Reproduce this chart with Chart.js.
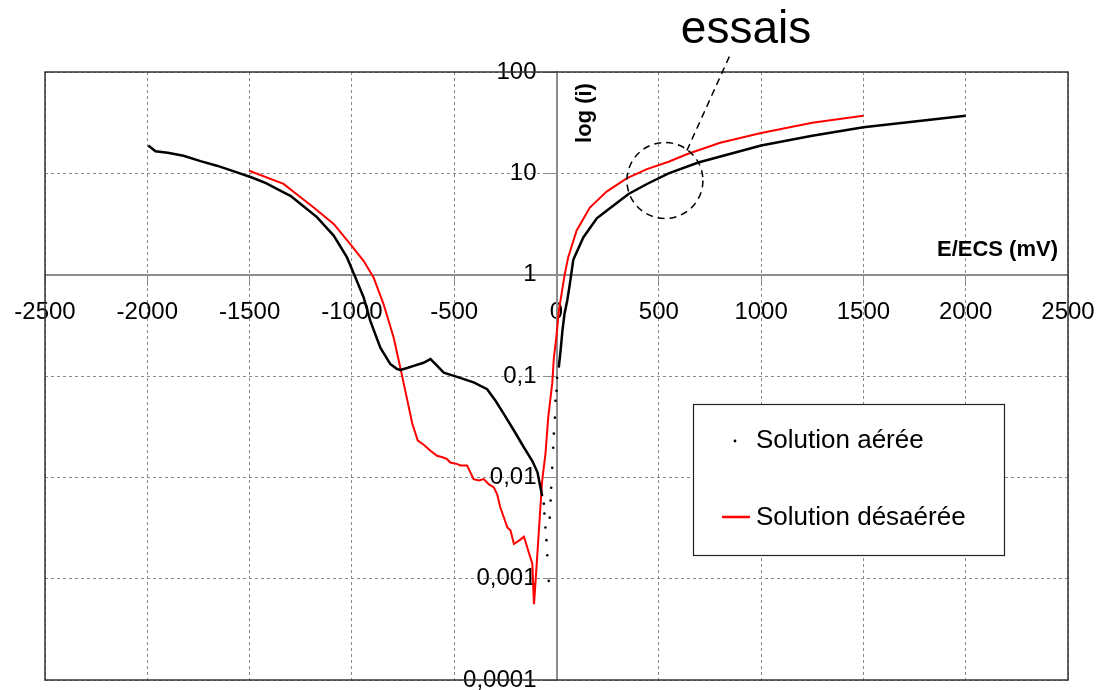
<!DOCTYPE html>
<html>
<head>
<meta charset="utf-8">
<script src="https://cdn.jsdelivr.net/npm/chart.js@4.4.1/dist/chart.umd.min.js"></script>
<style>
  html, body { margin: 0; padding: 0; background: #fff; }
  #wrap { width: 1115px; height: 690px; position: relative; }
</style>
</head>
<body>
<div id="wrap"><canvas id="chart"></canvas></div>
<script>
// ticks
const xTicks = [-2500, -2000, -1500, -1000, -500, 0, 500, 1000, 1500, 2000, 2500];
const yTicks = [100, 10, 1, 0.1, 0.01, 0.001, 0.0001];
const yTickLabels = ["100", "10", "1", "0,1", "0,01", "0,001", "0,0001"];

// Solution aérée (black dots)
const aereeE = [-1995, -1960, -1900, -1823, -1740, -1660, -1580, -1489, -1420, -1334, -1300, -1252, -1171,
  -1089, -1024, -983, -943, -910, -861, -812, -779, -763, -730, -698, -650, -616, -590, -551, -486, -405,
  -339, -298, -257, -208, -159, -118, -93, -78, -70,
  -62, -59, -54, -49, -45, -38, -33, -29, -26, -21, -16, -13, -8, -5, 0, 3,
  11, 20, 29, 39, 52, 64, 82, 131, 197, 245, 352, 442, 548, 693, 1000, 1250, 1500, 2000];
const aereeI = [18.8, 16.5, 16, 14.9, 13.2, 11.9, 10.5, 9.1, 8.0, 6.5, 6.0, 5.0, 3.7,
  2.43, 1.48, 0.94, 0.6, 0.35, 0.19, 0.131, 0.117, 0.115, 0.12, 0.126, 0.135, 0.147, 0.13, 0.108, 0.098, 0.0866,
  0.074, 0.057, 0.042, 0.029, 0.0197, 0.0145, 0.0112, 0.0079, 0.0065,
  0.0055, 0.0044, 0.0032, 0.0024, 0.0017, 0.00095, 0.004, 0.0059, 0.0079, 0.0124, 0.0196, 0.027, 0.0388, 0.057, 0.0716, 0.096,
  0.121, 0.178, 0.28, 0.41, 0.55, 0.78, 1.4, 2.33, 3.6, 4.28, 6.26, 7.85, 10.0, 12.8, 18.8, 23.5, 28.5, 37];
// sparse dotted part of the aérée sweep (mV)
const sparseFrom = -65, sparseTo = 5;

// Solution désaérée (red line)
const desaereeE = [-1502, -1334, -1187, -1089, -1008, -943, -894, -845, -796, -763, -747, -705, -678, -649,
  -616, -584, -553, -535, -519, -484, -470, -437, -421, -405, -379, -356, -330, -307, -290, -274, -240, -225,
  -208, -180, -159, -135, -118, -110, -101, -88, -79, -70, -54, -40, -21, -13, 0, 12, 25, 40, 57, 98, 163,
  245, 343, 442, 548, 640, 800, 1000, 1250, 1500];
const desaereeI = [10.6, 7.86, 4.6, 3.17, 2.0, 1.37, 0.94, 0.51, 0.24, 0.12, 0.085, 0.034, 0.023, 0.021,
  0.0183, 0.0163, 0.0157, 0.0151, 0.014, 0.0135, 0.0131, 0.0131, 0.0112, 0.0096, 0.0093, 0.0096, 0.0085, 0.008, 0.0068, 0.005, 0.0032, 0.003,
  0.0022, 0.0024, 0.0026, 0.0018, 0.0014, 0.00056, 0.00103, 0.0026, 0.005, 0.0093, 0.017, 0.04, 0.084, 0.15, 0.25, 0.45, 0.65, 1.0, 1.48, 2.72, 4.6,
  6.6, 8.9, 11.0, 13.0, 15.5, 20, 25, 31.5, 37];

// annotation anchor (data units)
const essaisE = 530, essaisI = 8.5;

const FONT = "'Liberation Sans', Arial, sans-serif";
const inSparse = e => e > sparseFrom && e < sparseTo;

const frameAndNotes = {
  id: "frameAndNotes",
  afterDraw(c) {
    const ctx = c.ctx, a = c.chartArea;
    const x = c.scales.x, y = c.scales.y;
    ctx.save();
    // plot frame
    ctx.strokeStyle = "#333";
    ctx.lineWidth = 1.5;
    ctx.strokeRect(a.left, a.top, a.right - a.left, a.bottom - a.top);

    // axis titles
    ctx.fillStyle = "#000";
    ctx.font = "bold 22px " + FONT;
    ctx.textAlign = "right";
    ctx.textBaseline = "middle";
    ctx.fillText("E/ECS (mV)", a.right - 10, 250);
    ctx.save();
    ctx.translate(x.getPixelForValue(0) + 28, 113);
    ctx.rotate(-Math.PI / 2);
    ctx.textAlign = "center";
    ctx.fillText("log (i)", 0, 0);
    ctx.restore();

    // "essais" callout
    const cx = x.getPixelForValue(essaisE), cy = y.getPixelForValue(essaisI);
    ctx.strokeStyle = "#000";
    ctx.lineWidth = 1.5;
    ctx.setLineDash([7, 5]);
    ctx.beginPath();
    ctx.ellipse(cx, cy, 38, 38, 0, 0, Math.PI * 2);
    ctx.stroke();
    ctx.beginPath();
    ctx.moveTo(cx + 22, cy - 30);
    ctx.lineTo(cx + 66, 53);
    ctx.stroke();
    ctx.setLineDash([]);
    ctx.font = "46px " + FONT;
    ctx.textAlign = "center";
    ctx.textBaseline = "alphabetic";
    ctx.fillText("essais", 746, 43);

    // legend
    const lx = 693, ly = 404, lw = 311, lh = 151;
    ctx.fillStyle = "#fff";
    ctx.fillRect(lx, ly, lw, lh);
    ctx.strokeStyle = "#222";
    ctx.lineWidth = 1.2;
    ctx.strokeRect(lx + 0.5, ly + 0.5, lw, lh);
    const ds = c.data.datasets;
    ctx.font = "26px " + FONT;
    ctx.textAlign = "left";
    ctx.textBaseline = "middle";
    ctx.fillStyle = "#000";
    ctx.beginPath();
    ctx.arc(735, 441, 1.4, 0, Math.PI * 2);
    ctx.fill();
    ctx.fillText(ds[0].label, 756, 441);
    ctx.strokeStyle = ds[1].borderColor;
    ctx.lineWidth = 2.5;
    ctx.beginPath();
    ctx.moveTo(722, 517);
    ctx.lineTo(750, 517);
    ctx.stroke();
    ctx.fillText(ds[1].label, 756, 518);
    ctx.restore();
  }
};

const chart = new Chart(document.getElementById("chart"), {
  type: "scatter",
  data: {
    datasets: [
      {
        label: "Solution aérée",
        data: aereeE.map((e, i) => ({ x: e, y: aereeI[i] })),
        showLine: true,
        borderColor: "#000",
        backgroundColor: "#000",
        borderWidth: 2.5,
        pointRadius: ctx => (ctx.raw && inSparse(ctx.raw.x) ? 1.3 : 0),
        pointBorderWidth: 0,
        segment: {
          borderColor: ctx => (inSparse(ctx.p0.parsed.x) || inSparse(ctx.p1.parsed.x) ? "rgba(0,0,0,0)" : "#000")
        }
      },
      {
        label: "Solution désaérée",
        data: desaereeE.map((e, i) => ({ x: e, y: desaereeI[i] })),
        showLine: true,
        borderColor: "#ff0000",
        borderWidth: 2,
        pointRadius: 0
      }
    ]
  },
  options: {
    responsive: true,
    maintainAspectRatio: false,
    devicePixelRatio: 1,
    animation: false,
    layout: { padding: { left: 45, right: 47, top: 72, bottom: 10 } },
    plugins: { legend: { display: false }, tooltip: { enabled: false } },
    scales: {
      x: {
        type: "linear",
        min: -2500,
        max: 2500,
        position: { y: 1 },
        afterBuildTicks: s => { s.ticks = xTicks.map(v => ({ value: v })); },
        afterFit: s => { s.height = 0; s.paddingLeft = 0; s.paddingRight = 0; },
        ticks: {
          color: "#000",
          font: { family: FONT, size: 24 },
          padding: 13,
          maxRotation: 0,
          autoSkip: false,
          callback: v => String(v)
        },
        grid: { color: "#8a8a8a", lineWidth: 1, tickLength: 10, tickColor: "#8a8a8a" },
        border: { color: "#8c8c8c", width: 2, dash: [3, 3] }
      },
      y: {
        type: "logarithmic",
        min: 0.0001,
        max: 100,
        position: { x: 0 },
        afterBuildTicks: s => { s.ticks = yTicks.map(v => ({ value: v })); },
        afterFit: s => { s.width = 0; s.paddingTop = 0; s.paddingBottom = 0; },
        ticks: {
          color: "#000",
          font: { family: FONT, size: 24 },
          callback: v => yTickLabels[yTicks.indexOf(v)] + "\u00a0\u00a0\u00a0"
        },
        grid: { color: "#8a8a8a", lineWidth: 1, tickLength: 10, tickColor: "#8a8a8a" },
        border: { color: "#8c8c8c", width: 2, dash: [3, 3] }
      }
    }
  },
  plugins: [frameAndNotes]
});
</script>
</body>
</html>
